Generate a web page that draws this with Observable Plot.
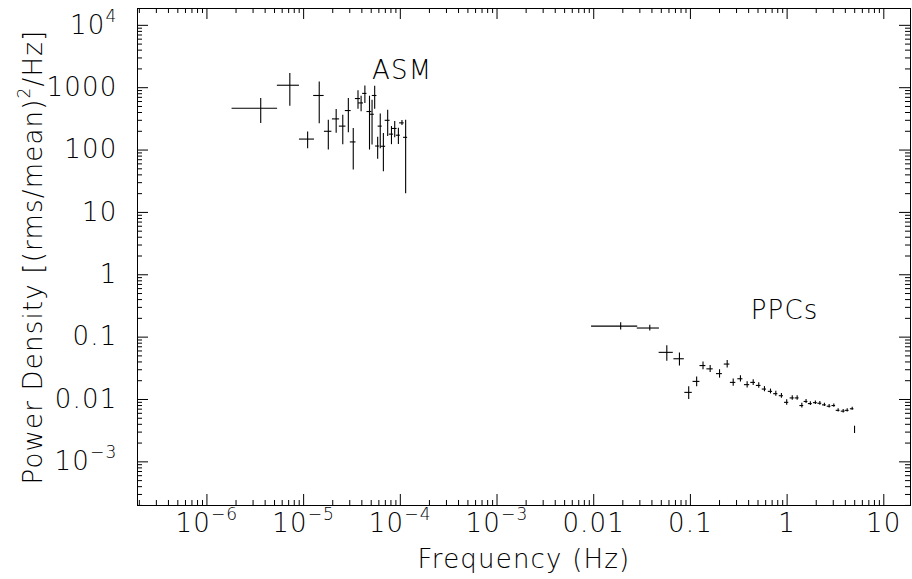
<!DOCTYPE html>
<html><head><meta charset="utf-8">
<script src="https://cdn.jsdelivr.net/npm/d3@7"></script>
<script src="https://cdn.jsdelivr.net/npm/@observablehq/plot@0.6"></script>
<style>
html,body{margin:0;padding:0;background:#fff;}
#chart svg{display:block;}
#chart text{letter-spacing:1.2px;}
</style>
</head><body><div id="chart"></div>
<script>
// ASM power density (frequency in Hz, half bin width, power, 1-sigma error)
const asmFreq = [3.6e-6, 7.2e-6, 1.1e-5, 1.45e-5, 1.8e-5, 2.17e-5, 2.54e-5, 2.9e-5, 3.26e-5, 3.65e-5, 3.93e-5, 4.3e-5, 4.8e-5, 5.1e-5, 5.43e-5, 5.83e-5, 6.2e-5, 6.68e-5, 7.4e-5, 8.1e-5, 8.75e-5, 9.55e-5, 1.04e-4, 1.135e-4];
const asmFreqErr = [1.78e-6, 1.85e-6, 1.95e-6, 1.8e-6, 1.6e-6, 1.85e-6, 2e-6, 2e-6, 2.2e-6, 2.2e-6, 2.3e-6, 2.2e-6, 2.8e-6, 2.8e-6, 3e-6, 2.8e-6, 3e-6, 3.7e-6, 4.3e-6, 4.2e-6, 5e-6, 4.6e-6, 5.7e-6, 5.5e-6];
const asmPow = [469, 1095, 150, 750, 200, 316, 242, 430, 135, 670, 570, 810, 415, 375, 750, 116, 242, 115, 300, 180, 222, 173, 273, 160];
const asmPowErr = [202, 590, 45, 485, 100, 130, 120, 240, 87, 220, 160, 250, 315, 255, 300, 45, 137, 70, 135, 58, 65, 50, 25, 140];

// PPCs power density
const ppcFreq = [0.019, 0.038, 0.057, 0.077, 0.096, 0.116, 0.135, 0.160, 0.200, 0.240, 0.277, 0.329, 0.386, 0.446, 0.509, 0.583, 0.673, 0.764, 0.873, 0.99, 1.13, 1.27, 1.42, 1.57, 1.74, 1.96, 2.18, 2.43, 2.72, 3.04, 3.37, 3.80, 4.18, 4.71, 4.98];
const ppcFreqErr = [0.0095, 0.0098, 0.0095, 0.0095, 0.0085, 0.0095, 0.0095, 0.012, 0.014, 0.016, 0.018, 0.020, 0.024, 0.025, 0.028, 0.030, 0.034, 0.038, 0.043, 0.05, 0.055, 0.06, 0.065, 0.07, 0.08, 0.09, 0.10, 0.11, 0.12, 0.13, 0.15, 0.17, 0.19, 0.2, 0.0];
const ppcPow = [0.150, 0.140, 0.057, 0.045, 0.0130, 0.0195, 0.035, 0.031, 0.026, 0.037, 0.0188, 0.0215, 0.0173, 0.0188, 0.0168, 0.0147, 0.0135, 0.0124, 0.0115, 0.0090, 0.0106, 0.0106, 0.0080, 0.0093, 0.0086, 0.0089, 0.0087, 0.0082, 0.0078, 0.0080, 0.0067, 0.0065, 0.0067, 0.0071, 0.00329];
const ppcPowErr = [0.020, 0.015, 0.016, 0.0105, 0.003, 0.0035, 0.005, 0.004, 0.004, 0.005, 0.0025, 0.0025, 0.002, 0.002, 0.0017, 0.0014, 0.0012, 0.0011, 0.001, 0.0009, 0.0009, 0.0009, 0.0007, 0.0007, 0.0006, 0.0006, 0.0006, 0.0005, 0.0005, 0.0005, 0.0004, 0.0004, 0.0004, 0.0004, 0.00044];

const seriesNames = ["ASM", "PPCs"];

const xTickValues = [1e-6, 1e-5, 1e-4, 1e-3, 0.01, 0.1, 1, 10];
const xTickLabels = ["10^{−6}", "10^{−5}", "10^{−4}", "10^{−3}", "0.01", "0.1", "1", "10"];
const yTickValues = [1e-3, 0.01, 0.1, 1, 10, 100, 1000, 1e4];
const yTickLabels = ["10^{−3}", "0.01", "0.1", "1", "10", "100", "1000", "10^{4}"];

const xTitle = "Frequency (Hz)";
const yTitle = "Power Density [(rms/mean)^{2}/Hz]";

const toRows = (f, df, p, dp) => f.map((v, i) => ({f: v, df: df[i], p: p[i], dp: dp[i]}));
const asm = toRows(asmFreq, asmFreqErr, asmPow, asmPowErr);
const ppc = toRows(ppcFreq, ppcFreqErr, ppcPow, ppcPowErr);
const points = asm.concat(ppc);

const W = 912, H = 579, mL = 137, mR = 2, mT = 8, mB = 74;
const innerW = W - mL - mR, innerH = H - mT - mB;
const xDomain = [10 ** -6.718, 10 ** 1.276];
const yDomain = [10 ** -3.70, 10 ** 4.27];
const FS = 26;
const INK = "#000";

function minorTicks([a, b]) {
  const out = [];
  for (let e = Math.floor(Math.log10(a)); e <= Math.ceil(Math.log10(b)); e++)
    for (let m = 2; m <= 9; m++) { const v = m * 10 ** e; if (v >= a && v <= b) out.push(v); }
  return out;
}
function majorTicks([a, b]) {
  const out = [];
  for (let e = Math.ceil(Math.log10(a)); e <= Math.floor(Math.log10(b)); e++) out.push(10 ** e);
  return out;
}
const MAJ = 11, MIN = 5;
const xTicks = (vals, len) => [
  Plot.ruleX(vals, {x: d => d, insetTop: innerH - len, stroke: INK}),
  Plot.ruleX(vals, {x: d => d, insetBottom: innerH - len, stroke: INK})
];
const yTicks = (vals, len) => [
  Plot.ruleY(vals, {y: d => d, insetRight: innerW - len, stroke: INK}),
  Plot.ruleY(vals, {y: d => d, insetLeft: innerW - len, stroke: INK})
];

const chart = Plot.plot({
  width: W, height: H,
  marginLeft: mL, marginRight: mR, marginTop: mT, marginBottom: mB,
  style: {fontFamily: "'DejaVu Sans', sans-serif", fontWeight: 200, color: "#000", background: "#fff"},
  x: {type: "log", domain: xDomain, axis: null, label: null},
  y: {type: "log", domain: yDomain, axis: null, label: null},
  marks: [
    Plot.frame({stroke: INK}),
    ...xTicks(majorTicks(xDomain), MAJ),
    ...xTicks(minorTicks(xDomain), MIN),
    ...yTicks(majorTicks(yDomain), MAJ),
    ...yTicks(minorTicks(yDomain), MIN),
    Plot.axisX(xTickValues, {anchor: "bottom", label: null, tickSize: 0, tickPadding: 8, fontSize: FS, fill: INK,
      tickFormat: d => xTickLabels[xTickValues.indexOf(d)]}),
    Plot.axisY(yTickValues, {anchor: "left", label: null, tickSize: 0, tickPadding: 20, fontSize: FS, fill: INK,
      tickFormat: d => yTickLabels[yTickValues.indexOf(d)]}),
    Plot.text([xTitle], {frameAnchor: "bottom", dy: 62, fontSize: FS, fill: INK}),
    Plot.text([yTitle], {frameAnchor: "left", dx: -104, rotate: -90, textAnchor: "middle", fontSize: FS, fill: INK}),
    // error bars
    Plot.ruleY(points, {y: "p", x1: d => d.f - d.df, x2: d => d.f + d.df, stroke: INK, strokeWidth: 1.1}),
    Plot.ruleX(points, {x: "f", y1: d => d.p - d.dp, y2: d => d.p + d.dp, stroke: INK, strokeWidth: 1.1}),
    Plot.text([seriesNames[0]], {x: 5.1e-5, y: 1370, textAnchor: "start", lineAnchor: "bottom", fontSize: FS, fill: INK}),
    Plot.text([seriesNames[1]], {x: 0.42, y: 0.197, textAnchor: "start", lineAnchor: "bottom", fontSize: FS, fill: INK})
  ]
});

// render ^{...} as superscripts
const SVGNS = "http://www.w3.org/2000/svg";
chart.querySelectorAll("text").forEach(t => {
  const s = t.textContent;
  if (!s.includes("^{")) return;
  const parts = s.split(/(\^\{[^}]*\})/).filter(p => p);
  while (t.firstChild) t.removeChild(t.firstChild);
  let raised = false;
  parts.forEach(p => {
    const ts = document.createElementNS(SVGNS, "tspan");
    if (p.startsWith("^{")) {
      ts.textContent = p.slice(2, -1);
      ts.setAttribute("dy", "-12");
      ts.setAttribute("font-size", "17");
      raised = true;
    } else {
      ts.textContent = p;
      if (raised) { ts.setAttribute("dy", "12"); raised = false; }
    }
    t.appendChild(ts);
  });
});
document.getElementById("chart").appendChild(chart);
</script>
</body></html>
